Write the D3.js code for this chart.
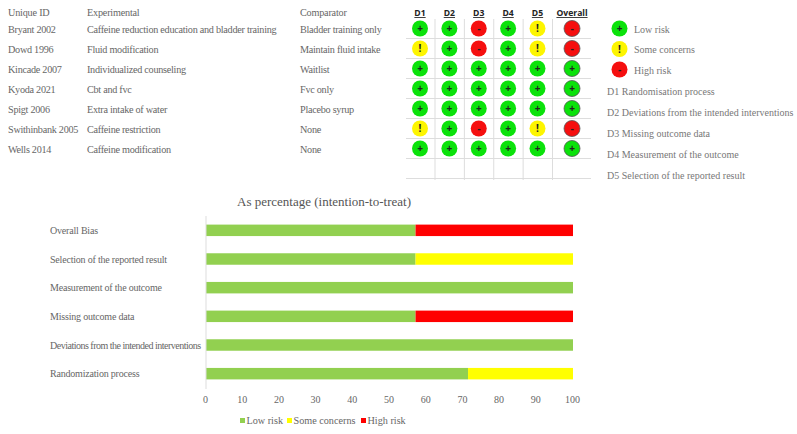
<!DOCTYPE html>
<html>
<head>
<meta charset="utf-8">
<script src="https://cdn.jsdelivr.net/npm/d3@7"></script>
<style>
  html, body { margin: 0; padding: 0; background: #fff; }
  svg { display: block; }
  text { font-family: "Liberation Serif", serif; fill: #666; }
</style>
</head>
<body>
<div id="chart"></div>
<script>
// study table
const studies = ["Bryant 2002", "Dowd 1996", "Kincade 2007", "Kyoda 2021", "Spigt 2006", "Swithinbank 2005", "Wells 2014"];
const experimental = ["Caffeine reduction education and bladder training", "Fluid modification", "Individualized counseling", "Cbt and fvc", "Extra intake of water", "Caffeine restriction", "Caffeine modification"];
const comparator = ["Bladder training only", "Maintain fluid intake", "Waitlist", "Fvc only", "Placebo syrup", "None", "None"];

// traffic light judgements, one row per study: L low, S some concerns, H high
const domains = ["D1", "D2", "D3", "D4", "D5", "Overall"];
const judgements = [
  ["L", "L", "H", "L", "S", "H"],
  ["S", "L", "H", "L", "S", "H"],
  ["L", "L", "L", "L", "L", "L"],
  ["L", "L", "L", "L", "L", "L"],
  ["L", "L", "L", "L", "L", "L"],
  ["S", "L", "H", "L", "S", "H"],
  ["L", "L", "L", "L", "L", "L"]
];
const domainNotes = ["D1 Randomisation process", "D2 Deviations from the intended interventions", "D3 Missing outcome data", "D4 Measurement of the outcome", "D5 Selection of the reported result"];

// summary bars, top to bottom
const barLabels = ["Overall Bias", "Selection of the reported result", "Measurement of the outcome", "Missing outcome data", "Deviations from the intended interventions", "Randomization process"];
const lowRisk = [57.1, 57.1, 100, 57.1, 100, 71.4];
const someConcerns = [0, 42.9, 0, 0, 0, 28.6];
const highRisk = [42.9, 0, 0, 42.9, 0, 0];
const riskNames = ["Low risk", "Some concerns", "High risk"];
const xTicks = [0, 10, 20, 30, 40, 50, 60, 70, 80, 90, 100];

const svg = d3.select("#chart").append("svg").attr("width", 797).attr("height", 434);

// table text
let rowY = d3.scalePoint().domain(d3.range(8)).range([28.5, 168.5]);

function textCol(x, head, values) {
  svg.append("text").attr("x", x).attr("y", 16).attr("font-size", 10.2).style("letter-spacing", "-0.2px").text(head);
  svg.selectAll(null).data(values).enter().append("text")
    .attr("x", x).attr("y", (d, i) => rowY(i) + 4)
    .attr("font-size", 10.2)
    .style("letter-spacing", "-0.27px")
    .text(d => d);
}
textCol(8, "Unique ID", studies);
textCol(87, "Experimental", experimental);
textCol(300, "Comparator", comparator);

// traffic light grid
let colX = d3.scalePoint().domain(domains.slice(0, 5)).range([420, 537.5]);
let cx = d => d === "Overall" ? 572 : colX(d);
let fill = {L: "#0be20b", S: "#fdf500", H: "#f50f0f"};
let sign = {L: "+", S: "!", H: "-"};

let grid = svg.append("g").attr("stroke", "#ddd").attr("stroke-width", 1);
grid.selectAll("line.h").data(d3.range(8)).enter().append("line")
  .attr("class", "h")
  .attr("x1", 406).attr("x2", 591)
  .attr("y1", i => rowY(i) + 10).attr("y2", i => rowY(i) + 10);
grid.selectAll("line.v").data(domains.slice(0, 5)).enter().append("line")
  .attr("class", "v")
  .attr("x1", d => colX(d) + 15).attr("x2", d => colX(d) + 15)
  .attr("y1", 19).attr("y2", 180);

svg.selectAll("text.dom").data(domains).enter().append("text")
  .attr("class", "dom")
  .attr("x", cx).attr("y", 16)
  .attr("text-anchor", "middle")
  .attr("font-size", 8.6)
  .attr("font-weight", "bold")
  .style("font-family", "'Open Sans', sans-serif")
  .style("fill", "#222")
  .style("text-decoration", "underline")
  .text(d => d);

judgements.forEach((row, i) => {
  row.forEach((v, j) => {
    let d = domains[j];
    svg.append("circle")
      .attr("cx", cx(d)).attr("cy", rowY(i))
      .attr("r", 8)
      .attr("fill", fill[v])
      .attr("stroke", d === "Overall" ? "#555" : "none")
      .attr("stroke-width", 0.8);
    svg.append("text")
      .attr("x", cx(d)).attr("y", rowY(i) + 3.5)
      .attr("text-anchor", "middle")
      .attr("font-size", 10)
      .attr("font-weight", "bold")
      .style("font-family", "'Open Sans', sans-serif")
      .style("fill", "#222")
      .text(sign[v]);
  });
});

// right legend
let legendKeys = ["L", "S", "H"];
legendKeys.forEach((k, i) => {
  let y = 28.5 + i * 20.5;
  svg.append("circle").attr("cx", 619.5).attr("cy", y).attr("r", 8).attr("fill", fill[k]);
  svg.append("text").attr("x", 619.5).attr("y", y + 3.5).attr("text-anchor", "middle")
    .attr("font-size", 10).attr("font-weight", "bold")
    .style("font-family", "'Open Sans', sans-serif").style("fill", "#222")
    .text(sign[k]);
  svg.append("text").attr("x", 634).attr("y", y + 4).attr("font-size", 10).style("fill", "#777").text(riskNames[i]);
});
svg.selectAll("text.note").data(domainNotes).enter().append("text")
  .attr("class", "note")
  .attr("x", 607).attr("y", (d, i) => 95 + i * 20.9)
  .attr("font-size", 10)
  .style("fill", "#777")
  .text(d => d);

// stacked bars
let x = d3.scaleLinear().domain([0, 100]).range([206, 573]);
let y = d3.scaleBand().domain(barLabels).range([216, 388]).paddingInner(0.6).paddingOuter(0.3);

svg.append("text").attr("x", 237).attr("y", 206).attr("font-size", 13).style("fill", "#555")
  .text("As percentage (intention-to-treat)");

let stackRows = barLabels.map((label, i) => ({label, low: lowRisk[i], some: someConcerns[i], high: highRisk[i]}));
let series = d3.stack().keys(["low", "some", "high"])(stackRows);
let barColor = d3.scaleOrdinal().domain(["low", "some", "high"]).range(["#92d050", "#ffff00", "#ff0000"]);

svg.selectAll("g.series").data(series).enter().append("g")
  .attr("class", "series")
  .attr("fill", d => barColor(d.key))
  .selectAll("rect").data(d => d).enter().append("rect")
    .attr("x", d => x(d[0]))
    .attr("y", d => y(d.data.label))
    .attr("width", d => x(d[1]) - x(d[0]))
    .attr("height", y.bandwidth());

svg.append("line").attr("x1", 206).attr("x2", 206).attr("y1", 216).attr("y2", 389)
  .attr("stroke", "#ddd");

let axeX = d3.axisBottom(x).tickValues(xTicks).tickSize(0).tickPadding(0);
let gx = svg.append("g").attr("transform", "translate(-1,396)").call(axeX);
gx.select(".domain").remove();
gx.selectAll("text").attr("font-size", 10).style("font-family", "'Liberation Serif', serif").style("fill", "#666");

svg.selectAll("text.blabel").data(barLabels).enter().append("text")
  .attr("class", "blabel")
  .attr("x", 50).attr("y", d => y(d) + y.bandwidth() / 2 + 3.5)
  .attr("font-size", 10)
  // the long label is set tighter so it stops before the axis
  .style("letter-spacing", d => d.length > 40 ? "-0.5px" : "-0.2px")
  .text(d => d);

// bottom legend
let legendX = [240, 287, 361];
riskNames.forEach((name, i) => {
  svg.append("rect").attr("x", legendX[i]).attr("y", 418).attr("width", 5).attr("height", 5)
    .attr("fill", barColor.range()[i]);
  svg.append("text").attr("x", legendX[i] + 6.5).attr("y", 424).attr("font-size", 10.2).text(name);
});
</script>
</body>
</html>
